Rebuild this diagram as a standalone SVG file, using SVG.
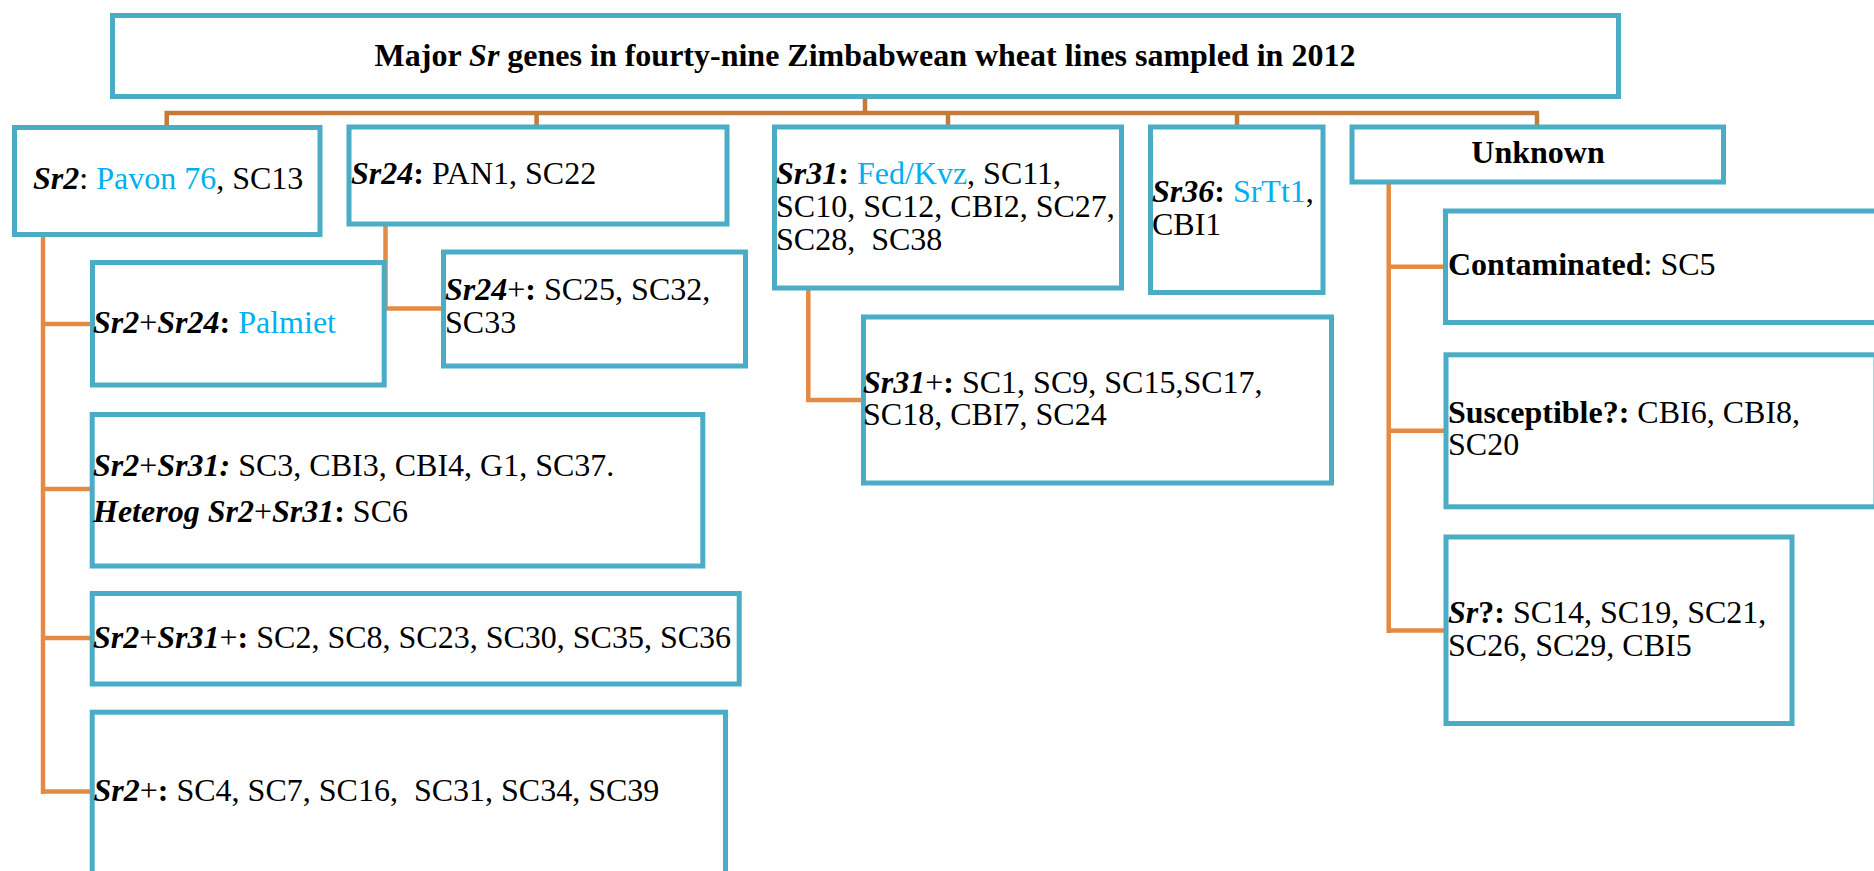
<svg xmlns="http://www.w3.org/2000/svg" width="1874" height="871" viewBox="0 0 1874 871">
<style>
.t{font-family:'Liberation Serif','Times New Roman',serif;font-size:32px;fill:#000}
.bi{font-weight:bold;font-style:italic}
.b{font-weight:bold}
.i{font-style:italic}
.blue{fill:#00B0F0}
.box{fill:#fff;stroke:#4BACC6;stroke-width:5}
.bus{stroke:#C47A38;stroke-width:4.5;fill:none}
.br{stroke:#E38B44;stroke-width:4.5;fill:none}
</style>
<rect width="1874" height="871" fill="#fff"/>
<g id="connectors">
<path class="bus" d="M865 97 V113 M164.5 113 H1539 M166.7 113 V126 M536.6 113 V126 M948 113 V126 M1237 113 V126 M1537 113 V126"/>
<path class="br" d="M43 235 V794 M40.8 324 H92 M40.8 489 H92 M40.8 638 H92 M40.8 791.5 H92"/>
<path class="br" d="M385.5 224 V308.5 H443"/>
<path class="br" d="M808.3 289 V400 H863"/>
<path class="br" d="M1388.7 182 V633 M1386.5 266.7 H1445 M1386.5 430.8 H1445 M1386.5 630.5 H1445"/>
</g>
<g id="title">
<rect class="box" x="112.5" y="15.5" width="1506" height="81"/>
<text class="t b" x="865" y="66" text-anchor="middle">Major <tspan class="i">Sr</tspan> genes in fourty-nine Zimbabwean wheat lines sampled in 2012</text>
</g>
<g id="sr2">
<rect class="box" x="14.5" y="127.5" width="305.5" height="107"/>
<text class="t" x="33" y="189"><tspan class="bi">Sr2</tspan>: <tspan class="blue">Pavon 76</tspan>, SC13</text>
</g>
<g id="sr24">
<rect class="box" x="349" y="127" width="378" height="97"/>
<text class="t" x="351" y="184"><tspan class="bi">Sr24</tspan><tspan class="b">:</tspan> PAN1, SC22</text>
</g>
<g id="sr31">
<rect class="box" x="774.5" y="127" width="347" height="161"/>
<text class="t" x="776" y="184"><tspan class="bi">Sr31</tspan><tspan class="b">:</tspan> <tspan class="blue">Fed/Kvz</tspan>, SC11,</text>
<text class="t" x="776" y="217">SC10, SC12, CBI2, SC27,</text>
<text class="t" x="776" y="250" xml:space="preserve">SC28,  SC38</text>
</g>
<g id="sr36">
<rect class="box" x="1150.5" y="127" width="172.5" height="165.5"/>
<text class="t" x="1152" y="202"><tspan class="bi">Sr36</tspan><tspan class="b">:</tspan> <tspan class="blue">SrTt1</tspan>,</text>
<text class="t" x="1152" y="235">CBI1</text>
</g>
<g id="unknown">
<rect class="box" x="1352" y="127" width="371.5" height="55"/>
<text class="t b" x="1538" y="163" text-anchor="middle">Unknown</text>
</g>
<g id="contaminated">
<rect class="box" x="1445.5" y="211" width="440" height="111.5"/>
<text class="t" x="1448" y="275"><tspan class="b">Contaminated</tspan>: SC5</text>
</g>
<g id="susceptible">
<rect class="box" x="1446" y="354.8" width="430" height="152"/>
<text class="t" x="1448" y="423"><tspan class="b">Susceptible?:</tspan> CBI6, CBI8,</text>
<text class="t" x="1448" y="455">SC20</text>
</g>
<g id="srq">
<rect class="box" x="1446" y="537" width="346" height="186.5"/>
<text class="t" x="1448" y="623"><tspan class="bi">Sr</tspan><tspan class="b">?:</tspan> SC14, SC19, SC21,</text>
<text class="t" x="1448" y="656">SC26, SC29, CBI5</text>
</g>
<g id="sr31plus">
<rect class="box" x="863.5" y="317" width="468" height="166"/>
<text class="t" x="863" y="393"><tspan class="bi">Sr31</tspan>+<tspan class="b">:</tspan> SC1, SC9, SC15,SC17,</text>
<text class="t" x="863" y="425">SC18, CBI7, SC24</text>
</g>
<g id="sr2sr24">
<rect class="box" x="92.5" y="262.5" width="291.7" height="122.5"/>
<text class="t" x="93" y="333"><tspan class="bi">Sr2</tspan>+<tspan class="bi">Sr24</tspan><tspan class="b">:</tspan> <tspan class="blue">Palmiet</tspan></text>
</g>
<g id="sr24plus">
<rect class="box" x="443.5" y="252" width="302" height="114"/>
<text class="t" x="445" y="300"><tspan class="bi">Sr24</tspan>+<tspan class="b">:</tspan> SC25, SC32,</text>
<text class="t" x="445" y="333">SC33</text>
</g>
<g id="sr2sr31">
<rect class="box" x="92.2" y="414.5" width="610.6" height="151.5"/>
<text class="t" x="93" y="476"><tspan class="bi">Sr2</tspan>+<tspan class="bi">Sr31:</tspan> SC3, CBI3, CBI4, G1, SC37.</text>
<text class="t" x="93" y="522"><tspan class="bi">Heterog Sr2</tspan>+<tspan class="bi">Sr31</tspan><tspan class="b">:</tspan> SC6</text>
</g>
<g id="sr2sr31plus">
<rect class="box" x="92.2" y="593.5" width="647" height="90.5"/>
<text class="t" x="93" y="648"><tspan class="bi">Sr2</tspan>+<tspan class="bi">Sr31</tspan>+<tspan class="b">:</tspan> SC2, SC8, SC23, SC30, SC35, SC36</text>
</g>
<g id="sr2plus">
<rect class="box" x="92.2" y="712.2" width="633.3" height="200"/>
<text class="t" x="93.5" y="801" xml:space="preserve"><tspan class="bi">Sr2</tspan>+<tspan class="b">:</tspan> SC4, SC7, SC16,  SC31, SC34, SC39</text>
</g>
</svg>
